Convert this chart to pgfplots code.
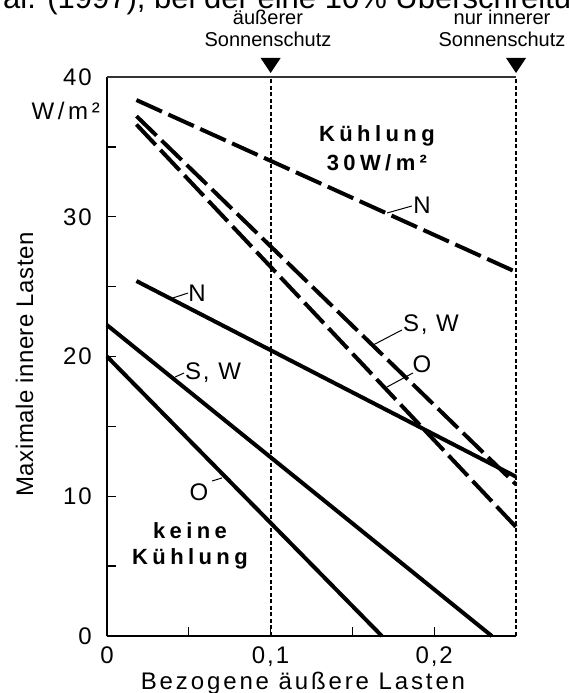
\documentclass[border=0pt]{standalone}
\usepackage{pgfplots}
\pgfplotsset{compat=1.18}
\usepackage{fontspec}
\setmainfont{Liberation Sans}
\newfontfamily\tickfont[LetterSpace=8]{Liberation Sans}
\newfontfamily\xlabfont[LetterSpace=12]{Liberation Sans}
\newfontfamily\unitfont[LetterSpace=15]{Liberation Sans}
\newfontfamily\boldsp[LetterSpace=20]{Liberation Sans}
\newfontfamily\ylabfont[LetterSpace=2]{Liberation Sans}

\pgfplotstableread{
x y
0.018 38.35
0.25 26.05
}\dashN
\pgfplotstableread{
x y
0.018 37.2
0.25 10.85
}\dashSW
\pgfplotstableread{
x y
0.018 36.6
0.25 7.8
}\dashO
\pgfplotstableread{
x y
0.018 25.4
0.25 11.4
}\solN
\pgfplotstableread{
x y
0 22.25
0.2352 0
}\solSW
\pgfplotstableread{
x y
0 20.0
0.168 0
}\solO

\begin{document}
\begin{tikzpicture}
\begin{axis}[
  at={(107pt,57pt)}, anchor=south west,
  scale only axis, width=409pt, height=559pt,
  xmin=0, xmax=0.25, ymin=0, ymax=40,
  axis lines*=left,
  axis line style={-, line width=1.3pt, black},
  xtick={0,0.1,0.2}, xticklabels={0,{0,1},{0,2}},
  minor xtick={0.05,0.15},
  ytick={0,10,20,30,40}, minor ytick={5,15,25,35},
  tick align=inside, major tick length=9pt, minor tick length=9pt,
  tick style={line width=1.3pt, black},
  /pgf/number format/assume math mode=true,
  ticklabel style={font=\tickfont\fontsize{24}{28}\selectfont, inner sep=0pt},
  yticklabel style={xshift=-15pt},
  xticklabel style={yshift=-11pt},
  clip=false,
]
% vertical dotted reference lines
\addplot[line width=2pt, dash pattern=on 4pt off 2.5pt] coordinates {(0.1,0) (0.1,40)};
\addplot[line width=2pt, dash pattern=on 4pt off 2.5pt] coordinates {(0.25,0) (0.25,40)};
\draw[line width=1.3pt, black!80] (axis cs:0,40) -- (axis cs:0.25,40);
% triangles
\fill ([xshift=-10pt,yshift=19pt]axis cs:0.1,40) -- ([xshift=10pt,yshift=19pt]axis cs:0.1,40) -- ([yshift=4pt]axis cs:0.1,40) -- cycle;
\fill ([xshift=-10pt,yshift=19pt]axis cs:0.25,40) -- ([xshift=10pt,yshift=19pt]axis cs:0.25,40) -- ([yshift=4pt]axis cs:0.25,40) -- cycle;

% data lines
\addplot[line width=4pt, dash pattern=on 28pt off 7pt] table {\dashN};
\addplot[line width=4pt, dash pattern=on 28pt off 7pt] table {\dashSW};
\addplot[line width=4pt, dash pattern=on 28pt off 7pt] table {\dashO};
\addplot[line width=4pt] table {\solN};
\addplot[line width=4pt] table {\solSW};
\addplot[line width=4pt] table {\solO};

% leaders
\draw[line width=1pt] (axis cs:0.0403,24.19) -- (axis cs:0.0495,24.54);
\draw[line width=1pt] (axis cs:0.0416,18.53) -- (axis cs:0.0471,18.82);
\draw[line width=1pt] (axis cs:0.0642,11.09) -- (axis cs:0.0703,11.31);
\draw[line width=1pt] (axis cs:0.1626,20.82) -- (axis cs:0.1803,21.90);
\draw[line width=1pt] (axis cs:0.1712,17.82) -- (axis cs:0.1870,18.82);
\draw[line width=1pt] (axis cs:0.1712,30.27) -- (axis cs:0.1864,30.77);

% labels
\tikzset{lab/.style={anchor=base, inner sep=0pt, font=\tickfont\fontsize{24}{28}\selectfont}}
\node[lab] at (axis cs:0.0550,23.9) {N};
\node[lab] at (axis cs:0.0648,18.32) {S, W};
\node[lab] at (axis cs:0.0562,9.73) {O};
\node[lab] at (axis cs:0.198,21.82) {S, W};
\node[lab] at (axis cs:0.1925,18.82) {O};
\node[lab] at (axis cs:0.1925,30.2) {N};
\tikzset{blab/.style={anchor=base, inner sep=0pt, font=\boldsp\bfseries\fontsize{22}{26}\selectfont}}
\node[blab] at (axis cs:0.165,35.35) {Kühlung};
\node[blab] at (axis cs:0.165,33.34) {30W/m²};
\node[blab] at (axis cs:0.0507,7.01) {keine};
\node[blab] at (axis cs:0.0507,5.15) {Kühlung};
\end{axis}

% axis titles and annotations
\node[rotate=90, anchor=base, inner sep=0pt, font=\ylabfont\fontsize{24}{28}\selectfont] at (33pt,328.5pt) {Maximale innere Lasten};
\node[anchor=base, inner sep=0pt, font=\xlabfont\fontsize{24}{28}\selectfont] at (303pt,4pt) {Bezogene äußere Lasten};
\node[anchor=base east, inner sep=0pt, font=\unitfont\fontsize{24}{28}\selectfont] at (100pt,573pt) {W/m²};

\node[anchor=base, inner sep=0pt, font=\fontsize{20}{24}\selectfont] at (268pt,668pt) {äußerer};
\node[anchor=base, inner sep=0pt, font=\fontsize{20}{24}\selectfont] at (268pt,646pt) {Sonnenschutz};
\node[anchor=base, inner sep=0pt, font=\fontsize{20}{24}\selectfont] at (502pt,668pt) {nur innerer};
\node[anchor=base, inner sep=0pt, font=\fontsize{20}{24}\selectfont] at (502pt,646pt) {Sonnenschutz};

\node[anchor=base west, inner sep=0pt, font=\fontsize{31}{36}\selectfont] at (3pt,684pt) {al. (1997), bei der eine 10\% Überschreitung};

\pgfresetboundingbox
\path[use as bounding box] (0pt,0pt) rectangle (568pt,693pt);
\end{tikzpicture}
\end{document}
